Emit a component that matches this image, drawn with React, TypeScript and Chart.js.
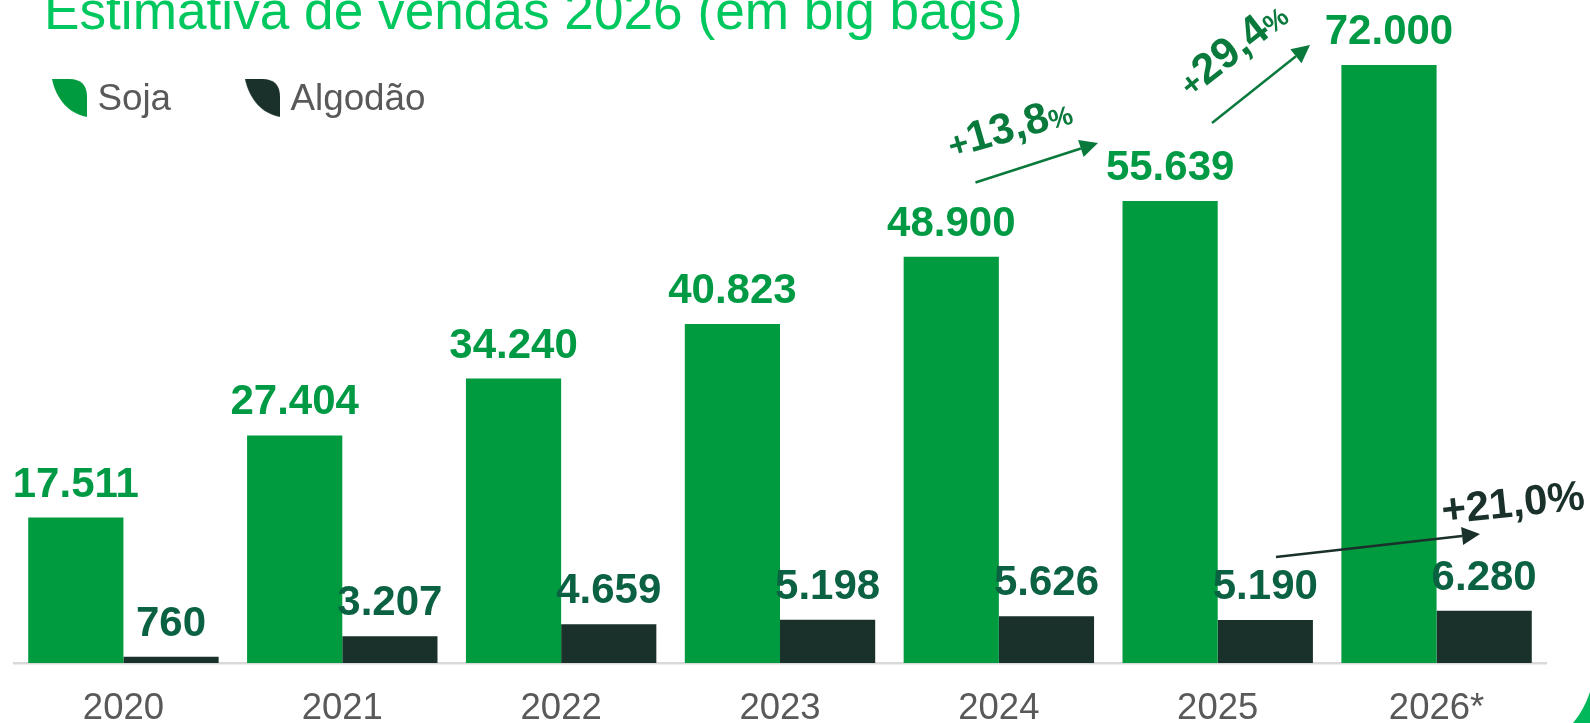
import React, { useEffect, useRef } from "react";
import { Chart, registerables } from "chart.js";

Chart.register(...registerables);

const categories = ["2020", "2021", "2022", "2023", "2024", "2025", "2026*"];
const sojaValues = [17511, 27404, 34240, 40823, 48900, 55639, 72000];
const algodaoValues = [760, 3207, 4659, 5198, 5626, 5190, 6280];
const titleText = "Estimativa de vendas 2026 (em big bags)";

const FONT = '"Liberation Sans", Arial, sans-serif';
const SOJA = "#009A3F";
const ALGODAO = "#1A302B";
const SOJA_LABEL = "#009A44";
const ALGODAO_LABEL = "#0B6242";
const GREY = "#595959";

const fmt = (v: number) => String(v).replace(/\B(?=(\d{3})+$)/g, ".");

function leaf(color: string) {
  const c = document.createElement("canvas");
  c.width = 35;
  c.height = 41;
  const x = c.getContext("2d")!;
  x.fillStyle = color;
  x.beginPath();
  x.moveTo(0, 0);
  x.lineTo(17, 0);
  x.quadraticCurveTo(35, 0, 35, 18);
  x.lineTo(35, 38);
  x.bezierCurveTo(17, 35, 4, 20, 0, 0);
  x.closePath();
  x.fill();
  return c;
}

type Seg = [string, number];

function arrow(ctx: CanvasRenderingContext2D, x0: number, y0: number, x1: number, y1: number, color: string) {
  const a = Math.atan2(y1 - y0, x1 - x0);
  const len = 18;
  const half = 9;
  ctx.save();
  ctx.strokeStyle = color;
  ctx.fillStyle = color;
  ctx.lineWidth = 2.5;
  ctx.beginPath();
  ctx.moveTo(x0, y0);
  ctx.lineTo(x1 - len * Math.cos(a), y1 - len * Math.sin(a));
  ctx.stroke();
  ctx.translate(x1, y1);
  ctx.rotate(a);
  ctx.beginPath();
  ctx.moveTo(0, 0);
  ctx.lineTo(-len, -half);
  ctx.lineTo(-len, half);
  ctx.closePath();
  ctx.fill();
  ctx.restore();
}

function rotatedText(ctx: CanvasRenderingContext2D, segs: Seg[], x: number, y: number, deg: number, color: string) {
  ctx.save();
  ctx.translate(x, y);
  ctx.rotate((deg * Math.PI) / 180);
  ctx.fillStyle = color;
  ctx.textAlign = "left";
  ctx.textBaseline = "alphabetic";
  let cx = 0;
  for (const [t, size] of segs) {
    ctx.font = `bold ${size}px ${FONT}`;
    ctx.fillText(t, cx, 0);
    cx += ctx.measureText(t).width;
  }
  ctx.restore();
}

const overlay = {
  id: "overlay",
  afterLayout(chart: any) {
    const l = chart.legend;
    if (l) {
      l.left = -22;
      l.right = 1590;
      l.top = -1;
      l.bottom = 300;
    }
  },
  afterDatasetsDraw(chart: any) {
    const ctx: CanvasRenderingContext2D = chart.ctx;
    ctx.save();
    // value labels
    ctx.textAlign = "center";
    ctx.textBaseline = "alphabetic";
    ctx.font = `bold 42px ${FONT}`;
    chart.data.datasets.forEach((ds: any, i: number) => {
      ctx.fillStyle = i === 0 ? SOJA_LABEL : ALGODAO_LABEL;
      chart.getDatasetMeta(i).data.forEach((el: any, j: number) => {
        ctx.fillText(fmt(ds.data[j]), el.x, el.y - 21);
      });
    });
    // title
    ctx.textAlign = "left";
    ctx.font = `53.2px ${FONT}`;
    ctx.fillStyle = "#00C85F";
    ctx.fillText(titleText, 44, 29);
    // growth annotations
    arrow(ctx, 975.5, 182.5, 1098, 143, "#0A7A3C");
    arrow(ctx, 1212, 123, 1310, 45, "#0A7A3C");
    arrow(ctx, 1276, 557, 1480, 534, ALGODAO);
    rotatedText(ctx, [["+", 34], ["13,8", 43], ["%", 27]], 952, 158, -16, "#0A7A3C");
    rotatedText(ctx, [["+", 32], ["29,4", 43], ["%", 27]], 1191, 98, -38, "#0A7A3C");
    rotatedText(ctx, [["+21,0%", 42]], 1443, 524, -6, ALGODAO);
    // corner decoration
    ctx.fillStyle = "#00B85C";
    ctx.beginPath();
    ctx.moveTo(1573, 723);
    ctx.quadraticCurveTo(1584, 710, 1590, 692);
    ctx.lineTo(1590, 723);
    ctx.closePath();
    ctx.fill();
    ctx.restore();
  },
};

export default function App() {
  const ref = useRef<HTMLCanvasElement>(null);
  useEffect(() => {
    const icons = [leaf(SOJA), leaf(ALGODAO)];
    const chart = new Chart(ref.current!, {
      type: "bar",
      data: {
        labels: categories,
        datasets: [
          { label: "Soja", data: sojaValues, backgroundColor: SOJA, categoryPercentage: 0.87, barPercentage: 1 },
          { label: "Algodão", data: algodaoValues, backgroundColor: ALGODAO, categoryPercentage: 0.87, barPercentage: 1 },
        ],
      },
      options: {
        animation: false,
        responsive: false,
        layout: { padding: { left: 14, right: 44, top: -201, bottom: 0 } },
        scales: {
          x: {
            grid: { display: false, drawTicks: false },
            border: { display: true, color: "#D9D9D9", width: 2.5 },
            ticks: { color: GREY, font: { family: FONT, size: 36.5 }, padding: 24, maxRotation: 0 },
            afterFit: (s: any) => {
              s.height = 60;
            },
          },
          y: { display: false, min: 0, max: 79826 },
        },
        plugins: {
          title: { display: false },
          tooltip: { enabled: false },
          legend: {
            display: true,
            position: "top",
            align: "start",
            labels: {
              usePointStyle: true,
              pointStyleWidth: 19,
              padding: 82,
              color: GREY,
              font: { family: FONT, size: 36.8 },
              generateLabels: (c: any) =>
                c.data.datasets.map((d: any, i: number) => ({
                  text: d.label,
                  pointStyle: icons[i],
                  fontColor: GREY,
                  fillStyle: d.backgroundColor,
                  strokeStyle: d.backgroundColor,
                  lineWidth: 0,
                  datasetIndex: i,
                })),
            },
          },
        },
      },
      plugins: [overlay],
    } as any);
    return () => chart.destroy();
  }, []);
  return (
    <div style={{ position: "fixed", left: 0, top: 0, width: 1590, height: 723, background: "#fff" }}>
      <canvas ref={ref} width={1590} height={723} style={{ display: "block" }} />
    </div>
  );
}
